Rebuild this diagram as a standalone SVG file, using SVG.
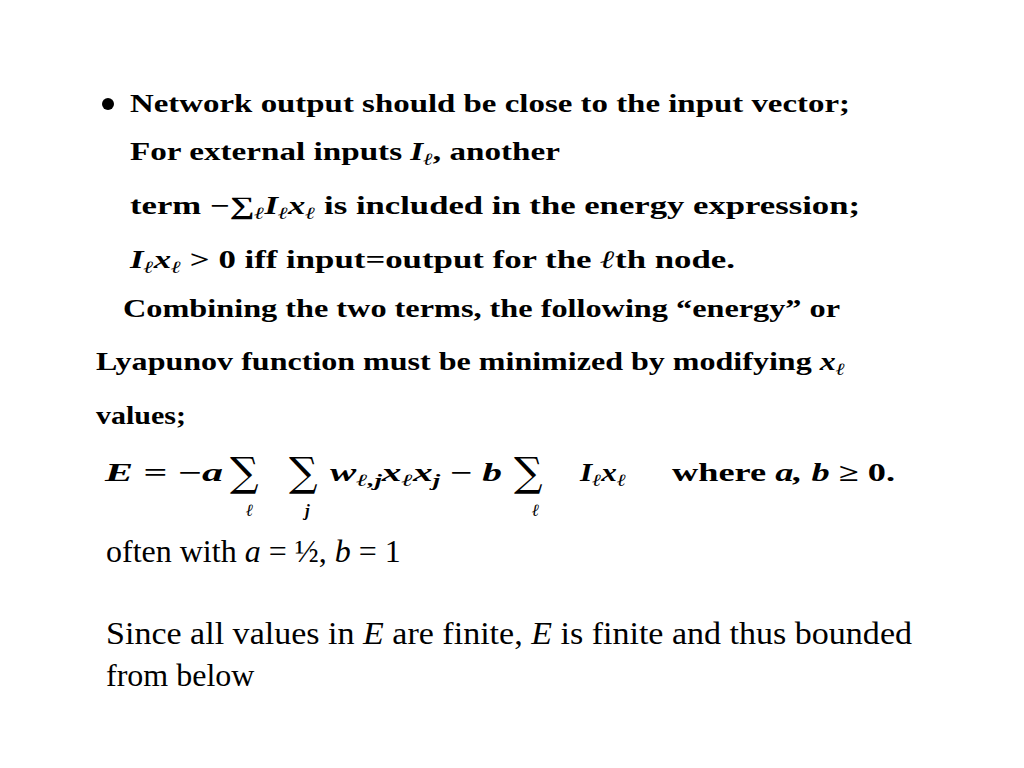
<svg xmlns="http://www.w3.org/2000/svg" width="1024" height="768" viewBox="0 0 1024 768">
<style>
.b{font-family:"Liberation Serif",serif;font-weight:bold;font-size:25px;fill:#000}
.r{font-family:"Liberation Serif",serif;font-size:32px;fill:#000}
.i{font-style:italic}
.s{font-size:17px}
.big{font-family:"DejaVu Serif",serif;font-size:40px;font-weight:normal}
</style>
<rect width="1024" height="768" fill="#fff"/>
<circle cx="108" cy="104" r="6" fill="#000"/>
<text class="b" x="130" y="112" textLength="720" lengthAdjust="spacingAndGlyphs">Network output should be close to the input vector;</text>
<text class="b" x="130" y="160" textLength="430" lengthAdjust="spacingAndGlyphs">For external inputs <tspan class="i">I</tspan><tspan class="i s" dy="5">ℓ</tspan><tspan dy="-5">, another</tspan></text>
<text class="b" x="130" y="214" textLength="730" lengthAdjust="spacingAndGlyphs">term −∑<tspan class="i s" dy="5">ℓ</tspan><tspan class="i" dy="-5">I</tspan><tspan class="i s" dy="5">ℓ</tspan><tspan class="i" dy="-5">x</tspan><tspan class="i s" dy="5">ℓ</tspan><tspan dy="-5"> is included in the energy expression;</tspan></text>
<text class="b" x="130" y="268" textLength="605" lengthAdjust="spacingAndGlyphs"><tspan class="i">I</tspan><tspan class="i s" dy="5">ℓ</tspan><tspan class="i" dy="-5">x</tspan><tspan class="i s" dy="5">ℓ</tspan><tspan dy="-5"> &gt; 0 iff input=output for the </tspan><tspan class="i">ℓ</tspan>th node.</text>
<text class="b" x="123" y="317" textLength="717" lengthAdjust="spacingAndGlyphs">Combining the two terms, the following “energy” or</text>
<text class="b" x="96" y="370" textLength="749" lengthAdjust="spacingAndGlyphs">Lyapunov function must be minimized by modifying <tspan class="i">x</tspan><tspan class="i s" dy="5">ℓ</tspan></text>
<text class="b" x="96" y="424" textLength="90" lengthAdjust="spacingAndGlyphs">values;</text>
<g id="formula">
<text class="b" x="105" y="481" textLength="118" lengthAdjust="spacingAndGlyphs"><tspan class="i">E</tspan> = −<tspan class="i">a</tspan></text>
<text x="230" y="486" class="big">∑</text>
<text x="289" y="486" class="big">∑</text>
<text x="246" y="516" class="b i s">ℓ</text>
<text x="305" y="516" class="b i s">j</text>
<text class="b" x="330" y="481" textLength="172" lengthAdjust="spacingAndGlyphs"><tspan class="i">w</tspan><tspan class="i s" dy="5">ℓ,j</tspan><tspan class="i" dy="-5">x</tspan><tspan class="i s" dy="5">ℓ</tspan><tspan class="i" dy="-5">x</tspan><tspan class="i s" dy="5">j</tspan><tspan dy="-5"> − </tspan><tspan class="i">b</tspan></text>
<text x="514" y="486" class="big">∑</text>
<text x="532" y="516" class="b i s">ℓ</text>
<text class="b" x="580" y="481" textLength="46" lengthAdjust="spacingAndGlyphs"><tspan class="i">I</tspan><tspan class="i s" dy="5">ℓ</tspan><tspan class="i" dy="-5">x</tspan><tspan class="i s" dy="5">ℓ</tspan></text>
<text class="b" x="672" y="481" textLength="223" lengthAdjust="spacingAndGlyphs">where <tspan class="i">a, b</tspan> ≥ 0.</text>
</g>
<text class="r" x="106" y="562">often with <tspan class="i">a</tspan> = ½, <tspan class="i">b</tspan> = 1</text>
<text class="r" x="106" y="644" textLength="806" lengthAdjust="spacingAndGlyphs">Since all values in <tspan class="i">E</tspan> are finite, <tspan class="i">E</tspan> is finite and thus bounded</text>
<text class="r" x="106" y="686">from below</text>
</svg>
